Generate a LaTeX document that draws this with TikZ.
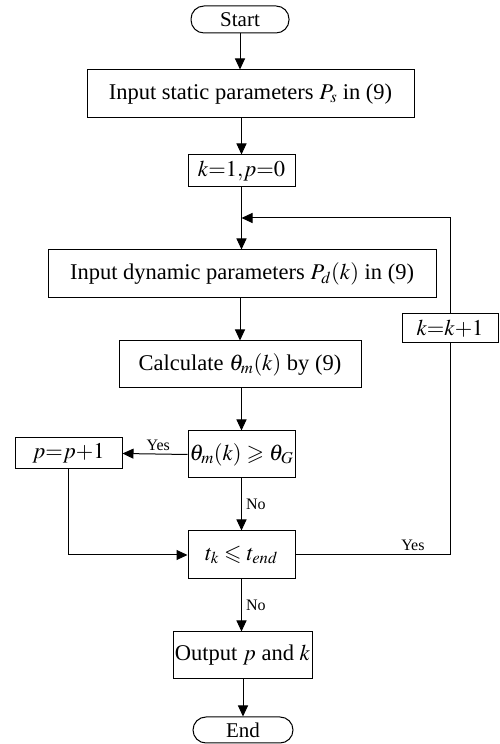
\documentclass[tikz,border=0pt]{standalone}
\usepackage{mathptmx}
\usepackage{amssymb}
\usepackage{fontspec}
\setmainfont{Liberation Serif}
\usetikzlibrary{arrows.meta, positioning}

\begin{document}
\begin{tikzpicture}[x=1pt,y=1pt,line join=miter,
  box/.style={draw, line width=1pt, inner sep=0pt, align=center, font=\fontsize{22.5}{26}\selectfont},
  term/.style={box, rounded corners=13pt, font=\fontsize{21}{24}\selectfont},
  flow/.style={-{Triangle[length=11pt,width=10pt]}, line width=1pt},
  lbl/.style={inner sep=0pt, font=\fontsize{16}{18}\selectfont}]

\useasboundingbox (0,0) rectangle (499,744);

% Nodes
\node[term, minimum width=98pt,  minimum height=27pt] (start)  at (240,724.5)   {Start};
\node[box,  minimum width=327pt, minimum height=48pt] (static) at (250.5,650)   {Input static parameters $P_s$ in (9)};
\node[box,  minimum width=107pt, minimum height=32pt] (init)   at (241.5,573)   {$k{=}1{,}p{=}0$};
\node[box,  minimum width=388pt, minimum height=48pt] (dyn)    at (242,470)     {Input dynamic parameters $P_d(k)$ in (9)};
\node[box,  minimum width=242pt, minimum height=47pt] (calc)   at (240,379.5)   {Calculate $\theta_m(k)$ by (9)};
\node[box,  minimum width=107pt, minimum height=47pt] (check)  at (241.5,289.5) {$\theta_m(k)\geqslant\theta_G$};
\node[box,  minimum width=107pt, minimum height=31pt] (incp)   at (68.5,290.5)  {$p{=}p{+}1$};
\node[box,  minimum width=107pt, minimum height=48pt] (time)   at (241.5,189)   {$t_k\leqslant t_{end}$};
\node[box,  minimum width=96pt,  minimum height=29pt] (inck)   at (450,415.5)   {$k{=}k{+}1$};
\node[box,  minimum width=139pt, minimum height=47pt] (out)    at (242.5,88.5)  {Output $p$ and $k$};
\node[term, minimum width=100pt, minimum height=26pt] (stop)   at (243,14)      {End};
\coordinate (join) at (241.5,526);

% Main flow
\draw[flow] (start) -- (start |- static.north);
\draw[flow] (init.north |- static.south) -- (init.north);
\draw[line width=1pt] (init.south) -- (join);
\draw[flow] (join) -- (join |- dyn.north);
\draw[flow] (calc.north |- dyn.south) -- (calc.north);
\draw[flow] (check.north |- calc.south) -- (check.north);
\draw[flow] (check.south) -- (time.north) node[lbl, midway, right=4pt] {No};
\draw[flow] (time.south) -- (time.south |- out.north) node[lbl, midway, right=4pt] {No};
\draw[flow] (out.south -| stop) -- (stop.north);

% Branches
\draw[flow] (check.west) -- (incp.east) node[lbl, pos=0.45, above=3pt] {Yes};
\draw[flow] (incp.south) |- (time.west);
\draw[line width=1pt] (time.east) -| (inck.south) node[lbl, pos=0.38, above=4pt] {Yes};
\draw[flow] (inck.north) |- (join);

\end{tikzpicture}
\end{document}
